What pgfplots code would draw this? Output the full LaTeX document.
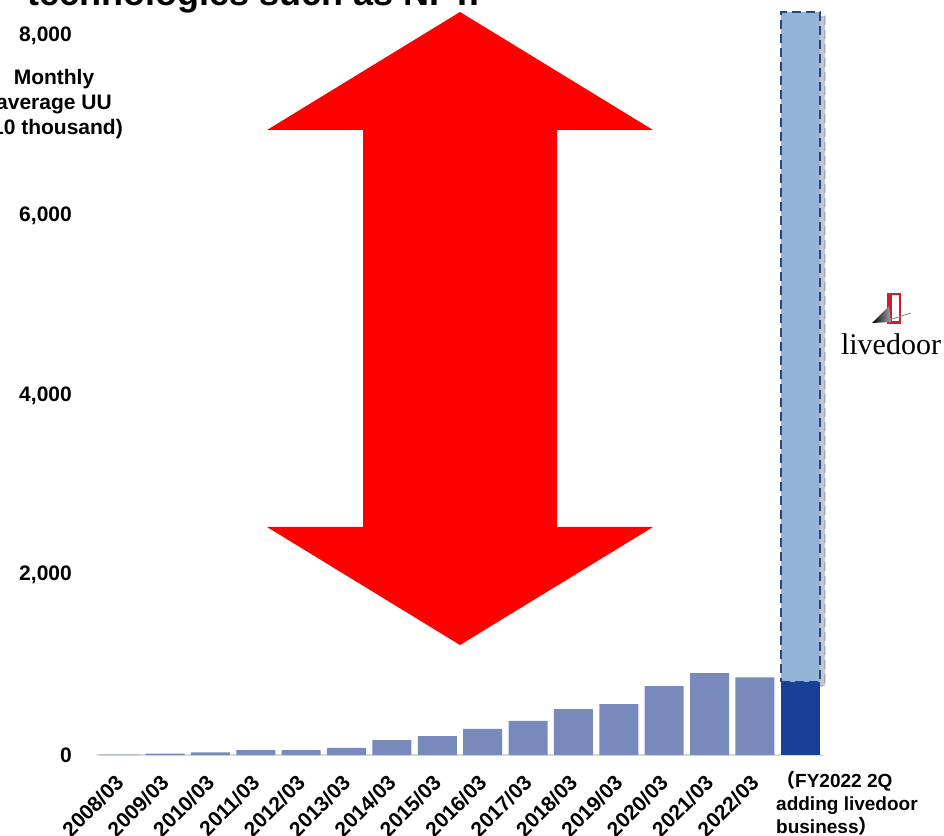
\documentclass[border=0pt]{standalone}
\usepackage{pgfplots}
\pgfplotsset{compat=1.18}
\usepackage{fontspec}
\setmainfont{Liberation Sans}
\newfontfamily\cjk{Noto Sans CJK JP}
\newfontfamily\seriffont{Liberation Serif}
\usetikzlibrary{shadows}
\definecolor{barblue}{RGB}{120,138,187}
\definecolor{darkblue}{RGB}{24,64,152}
\definecolor{lightblue}{RGB}{149,179,215}
\definecolor{dashblue}{RGB}{31,73,125}
\definecolor{axisgray}{RGB}{217,217,217}
\definecolor{arrowred}{RGB}{255,0,0}
\definecolor{logored}{RGB}{215,25,45}
\begin{document}
\begin{tikzpicture}[x=1pt,y=1pt]
\useasboundingbox (0,0) rectangle (944,835);
\pgfplotsset{
  commonaxis/.style={
    at={(97pt,80pt)}, anchor=south west, scale only axis,
    width=726pt, height=755pt,
    xmin=-0.5, xmax=15.5, ymin=0, ymax=8400,
    bar width=39pt, clip=false,
  }
}
\begin{axis}[
  commonaxis,
  ybar,
  axis x line*=bottom, axis y line*=left,
  y axis line style={draw=none},
  x axis line style={draw=axisgray, line width=1.6pt, -},
  xtick={0,...,15},
  xticklabels={2008/03,2009/03,2010/03,2011/03,2012/03,2013/03,2014/03,2015/03,2016/03,2017/03,2018/03,2019/03,2020/03,2021/03,2022/03,{}},
  ytick={0,2000,4000,6000,8000},
  major tick length=0pt,
  /pgf/number format/assume math mode=true,
  /pgf/number format/1000 sep={,},
  yticklabel style={anchor=east, inner sep=0pt, xshift=-25pt, font=\bfseries\fontsize{21}{24}\selectfont},
  xticklabel style={rotate=45, anchor=east, inner sep=0pt, font=\bfseries\fontsize{21}{24}\selectfont},
  xticklabel shift=24pt,
]
\addplot[fill=barblue, draw=none, bar shift=0pt] coordinates {
  (0,5) (1,15) (2,30) (3,55) (4,55) (5,80) (6,165) (7,210) (8,290)
  (9,380) (10,510) (11,565) (12,765) (13,910) (14,865)
};
\end{axis}
\begin{axis}[
  commonaxis,
  ybar stacked,
  hide axis,
]
\addplot[fill=darkblue, draw=none, bar shift=0pt] coordinates {(15,812)};
\addplot[fill=lightblue, draw=dashblue, line width=2.6pt, dash pattern=on 9pt off 5pt, bar shift=0pt,
  drop shadow={shadow xshift=5pt, shadow yshift=-4pt, opacity=0.22, fill=black}] coordinates {(15,7453)};
\end{axis}
% red double arrow
\fill[arrowred] (460,823) -- (653,705) -- (557,705) -- (557,308) -- (653,308) -- (460,190)
  -- (267,308) -- (363,308) -- (363,705) -- (267,705) -- cycle;
% clipped title
\node[anchor=base west, inner sep=0pt, font=\bfseries\fontsize{36}{40}\selectfont] at (27,829) {technologies such as NFT.};
% y axis title
\node[align=center, font=\bfseries\fontsize{21}{25}\selectfont] at (54,731) {Monthly\\average UU\\(10 thousand)};
% last category label
\node[anchor=north west, align=left, inner sep=0pt, font=\bfseries\fontsize{19}{23}\selectfont] at (776,64)
  {{\cjk （}FY2022 2Q\\adding livedoor\\business{\cjk ）}};
% livedoor logo
\fill[logored] (887,511) rectangle (901,542);
\fill[white] (892,514) rectangle (898.5,539.5);
\shade[left color=black, right color=black!35] (872,512) -- (889,529) -- (891,513) -- cycle;
\draw[black!45, line width=0.9pt] (886,514) -- (911,522);
\node[anchor=base, inner sep=0pt, font=\seriffont\fontsize{30}{30}\selectfont] at (891,480) {livedoor};
\end{tikzpicture}
\end{document}
